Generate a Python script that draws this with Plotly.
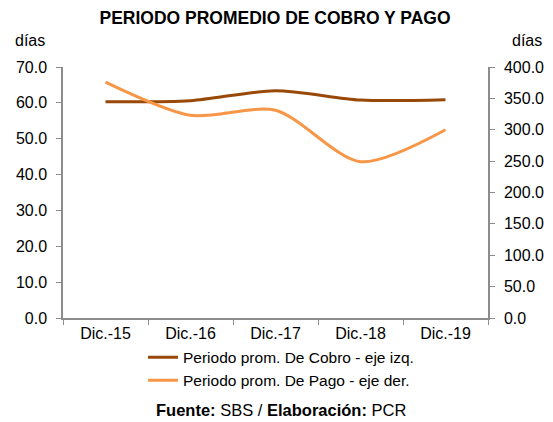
import plotly.graph_objects as go

categories = ["Dic.-15", "Dic.-16", "Dic.-17", "Dic.-18", "Dic.-19"]
cobro = [60.3, 60.6, 63.4, 60.8, 60.9]
pago = [376.0, 323.0, 331.0, 249.0, 300.0]
left_ticks = [0, 10, 20, 30, 40, 50, 60, 70]
right_ticks = [0, 50, 100, 150, 200, 250, 300, 350, 400]

FONT = "Liberation Sans, Arial, sans-serif"
AX = "#8c8c8c"

fig = go.Figure()
fig.add_trace(go.Scatter(x=categories, y=cobro, mode="lines", name="Periodo prom. De Cobro - eje izq.",
                         line=dict(color="#984807", width=3, shape="spline", smoothing=0.8), yaxis="y"))
fig.add_trace(go.Scatter(x=categories, y=pago, mode="lines", name="Periodo prom. De Pago - eje der.",
                         line=dict(color="#f79646", width=3, shape="spline", smoothing=0.8), yaxis="y2"))

# page has an 8px body margin, so the figure is 545x414 and offset by 8px
fig.update_layout(
    width=545, height=414,
    margin=dict(l=55, r=65, t=59, b=104, autoexpand=False),
    paper_bgcolor="white", plot_bgcolor="white",
    font=dict(family=FONT, size=16, color="black"),
    title=dict(text="<b>PERIODO PROMEDIO DE COBRO Y PAGO</b>", x=(275 - 8) / 545, xanchor="center",
               y=1 - 10 / 414, yanchor="middle", font=dict(size=17.5, family=FONT)),
    showlegend=True,
    legend=dict(orientation="v", x=(281 - 8 - 55) / 425, xanchor="center", y=-0.09, yanchor="top",
                font=dict(size=15.5), tracegroupgap=0, bgcolor="rgba(0,0,0,0)"),
    xaxis=dict(type="category", showline=True, linecolor=AX, linewidth=1.5, ticks="outside",
               tickson="boundaries", ticklen=5, tickcolor=AX, showgrid=False, zeroline=False,
               range=[-0.5, 4.5], tickfont=dict(size=16)),
    yaxis=dict(range=[0, 70], tickvals=left_ticks, ticktext=[f"{v:.1f}" for v in left_ticks],
               showline=True, linecolor=AX, linewidth=1.5, ticks="outside", ticklen=5, tickcolor=AX,
               showgrid=False, zeroline=False, tickfont=dict(size=16), ticklabelstandoff=6),
    yaxis2=dict(range=[0, 400], tickvals=right_ticks, ticktext=[f"{v:.1f}" for v in right_ticks],
                overlaying="y", side="right", showline=True, linecolor=AX, linewidth=1.5,
                ticks="outside", ticklen=5, tickcolor=AX, showgrid=False, zeroline=False,
                tickfont=dict(size=16), ticklabelstandoff=6),
    annotations=[
        dict(text="días", xref="paper", yref="paper", x=(5 - 55) / 425, y=1 + 27 / 251, xanchor="left",
             yanchor="middle", showarrow=False, font=dict(size=16)),
        dict(text="días", xref="paper", yref="paper", x=(502 - 55) / 425, y=1 + 27 / 251, xanchor="left",
             yanchor="middle", showarrow=False, font=dict(size=16)),
        dict(text="<b>Fuente:</b> SBS / <b>Elaboración:</b> PCR", xref="paper", yref="paper",
             x=(273 - 55) / 425, y=-(410 - 318) / 251, xanchor="center", yanchor="middle", showarrow=False,
             font=dict(size=16.5)),
    ],
)

fig.write_html("out.html")
